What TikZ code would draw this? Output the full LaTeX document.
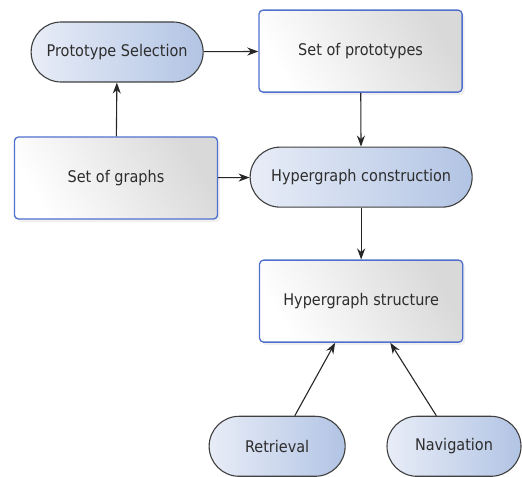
\documentclass[tikz,border=0pt]{standalone}
\usepackage{fontspec}
\setmainfont{DejaVu Sans Condensed}
\usepackage{tikz}
\usepackage{xcolor}
\usetikzlibrary{positioning, arrows.meta}
\usetikzlibrary{shapes.geometric, shadows}
\definecolor{pillleft}{RGB}{232,237,247}
\definecolor{pillright}{RGB}{178,196,228}
\definecolor{boxedge}{RGB}{80,112,205}
\definecolor{ink}{RGB}{45,45,45}
\tikzstyle{pill}=[rectangle, rounded corners=1.05cm, draw=black!75, line width=1.1pt,
left color=pillleft, right color=pillright,
text=ink, font=\fontsize{16}{18}\selectfont,
minimum height=2.1cm]
\tikzstyle{box} =[rectangle, rounded corners=4pt, draw=boxedge, line width=1.3pt,
left color=white, right color=black!15, shading angle=120,
drop shadow={opacity=0.12, shadow xshift=2.5pt, shadow yshift=-3pt},
text=ink, font=\fontsize{16}{18}\selectfont,
minimum width=7.11cm,
minimum height=2.87cm]
\tikzstyle{flow}=[-{Stealth[length=11pt,width=8pt]}, line width=1.1pt, black!85]

\begin{document}
\begin{tikzpicture}
\useasboundingbox (0,0) rectangle (18.27,-16.695);

\node [pill, minimum width=6.02cm] (sel) at (4.10,-1.82) {Prototype Selection};
\node [box] (protos) at (12.62,-1.79) {Set of prototypes};
\node [box] (graphs) at (4.06,-6.23) {Set of graphs};
\node [pill, minimum width=7.77cm] (cons) at (12.64,-6.20) {Hypergraph construction};
\node [box] (struct) at (12.64,-10.54) {Hypergraph structure};
\node [pill, minimum width=4.76cm] (ret) at (9.70,-15.62) {Retrieval};
\node [pill, minimum width=4.69cm] (nav) at (15.89,-15.62) {Navigation};

\draw [flow] (graphs) to (sel);
\draw [flow] (sel) to (protos);
\draw [flow] (protos) to (cons);
\draw [flow] (graphs) to (cons);
\draw [flow] (cons) to (struct);
\draw [flow] (ret.60) to (struct.238);
\draw [flow] (nav.120) to (struct.305);

\end{tikzpicture}
\end{document}
